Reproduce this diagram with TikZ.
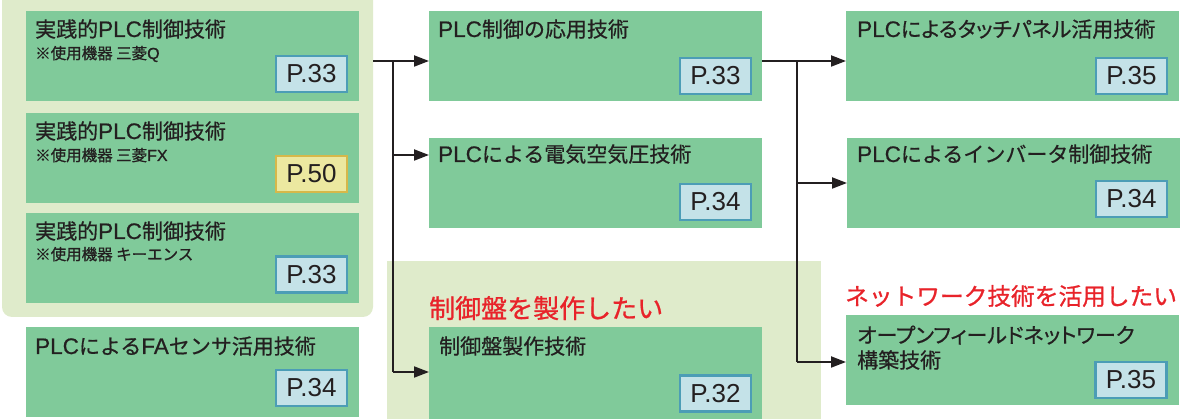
\documentclass[tikz,border=0pt]{standalone}
\usepackage{fontspec}
\usetikzlibrary{arrows.meta}
\newfontfamily\jp{Noto Sans CJK JP}[FakeBold=0.6]
\newfontfamily\jpp{Noto Sans CJK JP}[FakeBold=0.6,RawFeature=+palt]
\newfontfamily\jps{Noto Sans CJK JP}[FakeBold=1.0]
\newfontfamily\jpr{Noto Sans CJK JP}[FakeBold=0.9]
\newfontfamily\pnum{Liberation Sans}
\newfontfamily\latf{Liberation Sans}[FakeBold=0.6]
\newfontfamily\latsf{Liberation Sans}[FakeBold=1.0]
\newcommand\lat[1]{{\latf\fontsize{22.5}{22.5}\selectfont #1}}
\newcommand\lats[1]{{\latsf\fontsize{16}{16}\selectfont #1}}
\definecolor{boxg}{RGB}{128,202,154}
\definecolor{bgl}{RGB}{223,235,203}
\definecolor{pfill}{RGB}{196,226,232}
\definecolor{pline}{RGB}{76,157,182}
\definecolor{yfill}{RGB}{236,232,160}
\definecolor{yline}{RGB}{214,184,74}
\definecolor{txt}{RGB}{35,31,32}
\definecolor{redt}{RGB}{232,35,42}
\tikzset{
  gbox/.style={fill=boxg, draw=none, anchor=north west, minimum width=333pt, minimum height=90pt, inner sep=0},
  pbox/.style={fill=pfill, draw=pline, line width=2.5pt, minimum width=71pt, minimum height=36pt, inner sep=0, text=txt, font=\pnum\fontsize{26}{26}\selectfont},
  ybox/.style={pbox, fill=yfill, draw=yline},
  ttl/.style={anchor=base west, inner sep=0, text=txt, font=\jp\fontsize{21}{21}\selectfont},
  ttlp/.style={ttl, font=\jpp\fontsize{21}{21}\selectfont},
  sub/.style={anchor=base west, inner sep=0, text=txt, font=\jps\fontsize{15.5}{15.5}\selectfont},
  redl/.style={anchor=base west, inner sep=0, text=redt, font=\jpr\fontsize{26}{26}\selectfont},
  conn/.style={draw=txt, line width=2pt, -{Triangle[length=15pt,width=11pt]}},
  trunk/.style={draw=txt, line width=2pt}
}
\begin{document}
\begin{tikzpicture}[x=1pt,y=-1pt]
\useasboundingbox (0,0) rectangle (1184,419);
% backgrounds
\fill[bgl, rounded corners=10pt] (2,-20) rectangle (373,317);
\fill[bgl] (387,261) rectangle (821,430);
% left column
\node[gbox] (b1) at (26,11) {};
\node[gbox] (b2) at (26,113) {};
\node[gbox] (b3) at (26,213) {};
\node[gbox] (b4) at (26,327) {};
\node[ttl] (t1) at (35,37) {実践的\lat{PLC}制御技術};
\node[sub] (s1) at (35,59) {※使用機器 三菱\lats{Q}};
\node[ttl] (t2) at (35,139) {実践的\lat{PLC}制御技術};
\node[sub] (s2) at (35,161) {※使用機器 三菱\lats{FX}};
\node[ttl] (t3) at (35,239) {実践的\lat{PLC}制御技術};
\node[sub] (s3) at (35,260) {※使用機器 キーエンス};
\node[ttl] (t4) at (35,354) {\lat{PLC}による\lat{FA}センサ活用技術};
\node[pbox] (p1) at (311.5,74) {P.33};
\node[ybox] (p2) at (311.5,174) {P.50};
\node[pbox] (p3) at (311.5,274.5) {P.33};
\node[pbox] (p4) at (311.5,388) {P.34};
% middle column
\node[gbox] (bA) at (429,11) {};
\node[gbox] (bB) at (429,138) {};
\node[gbox, minimum height=95pt] (bC) at (429,327) {};
\node[ttl] (tA) at (438,37) {\lat{PLC}制御の応用技術};
\node[ttl] (tB) at (438,162) {\lat{PLC}による電気空気圧技術};
\node[ttl] (tC) at (439,354) {制御盤製作技術};
\node[pbox] (pA) at (715.5,76) {P.33};
\node[pbox] (pB) at (715.5,202) {P.34};
\node[pbox] (pC) at (715.5,393.5) {P.32};
\node[redl] (rC) at (429,318) {制御盤を製作したい};
% right column
\node[gbox] (bD) at (846,11) {};
\node[gbox] (bE) at (847,138) {};
\node[gbox] (bF) at (846,315) {};
\node[ttlp] (tD) at (857,37) {\lat{PLC}によるタッチパネル活用技術};
\node[ttl] (tE) at (857,162) {\lat{PLC}によるインバータ制御技術};
\node[ttlp] (tF1) at (857,343) {オープンフィールドネットワーク};
\node[ttl] (tF2) at (857,368) {構築技術};
\node[pbox] (pD) at (1131.5,76) {P.35};
\node[pbox] (pE) at (1131.5,199) {P.34};
\node[pbox] (pF) at (1131,380) {P.35};
\node[redl, font=\jpr\fontsize{23.7}{23.7}\selectfont] (rF) at (845,305) {ネットワーク技術を活用したい};
% connectors left
\coordinate (L0) at (373,61);
\coordinate (LT) at (393,61);
\coordinate (LB) at (393,155);
\coordinate (LC) at (393,372);
\draw[conn] (L0) -- (bA.west |- L0);
\draw[trunk] (LT) -- (LC);
\draw[conn] (LB) -- (bB.west |- LB);
\draw[conn] (LC) -- (bC.west |- LC);
% connectors right
\coordinate (R0) at (762,61);
\coordinate (RT) at (797,61);
\coordinate (RE) at (797,183);
\coordinate (RF) at (797,362);
\draw[conn] (R0) -- (bD.west |- R0);
\draw[trunk] (RT) -- (RF);
\draw[conn] (RE) -- (bE.west |- RE);
\draw[conn] (RF) -- (bF.west |- RF);
\end{tikzpicture}
\end{document}
